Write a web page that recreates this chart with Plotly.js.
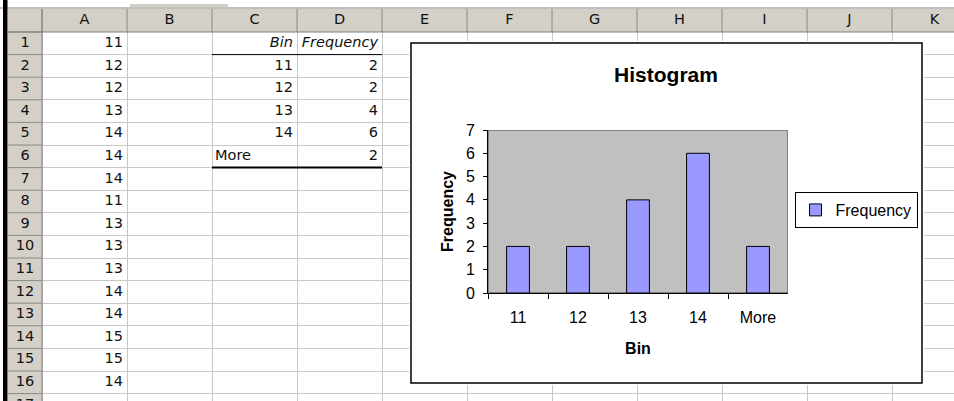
<!DOCTYPE html>
<html><head><meta charset="utf-8">
<script src="https://cdn.plot.ly/plotly-3.0.1.min.js"></script>
<style>html,body{margin:0;padding:0;background:#fff;overflow:hidden}#chart{width:954px;height:401px}</style>
</head><body><div id="chart"></div>
<script>
// ---- data ----
const columnLetters = ['A','B','C','D','E','F','G','H','I','J','K'];
const rowNumbers = [1,2,3,4,5,6,7,8,9,10,11,12,13,14,15,16,17];
const columnA = [11,12,12,13,14,14,14,11,13,13,13,14,14,15,15,14];
const binHeader = 'Bin';
const freqHeader = 'Frequency';
const bins = ['11','12','13','14','More'];
const frequency = [2,2,4,6,2];
const chartTitle = 'Histogram';
const xTitle = 'Bin';
const yTitle = 'Frequency';
const seriesName = 'Frequency';

// ---- sheet geometry (pixel units) ----
const W = 954, H = 401;
const colEdges = [8, 42];
for (let i = 1; i <= 11; i++) colEdges.push(42 + 85 * i);
const rowEdges = [9, 32];
for (let i = 1; i <= 17; i++) rowEdges.push(32 + 22.6 * i);
const colCenter = i => (colEdges[i + 1] + colEdges[i + 2]) / 2;   // i = 0 -> A
const colRight = i => colEdges[i + 2] - 4;
const colLeft = i => colEdges[i + 1] + 3;
const rowCenter = r => (rowEdges[r] + rowEdges[r + 1]) / 2;      // r = 1 -> row 1

const sheetFont = {family: 'DejaVu Sans', size: 14.5, color: '#111'};
const chartFont = 'Liberation Sans, Arial, sans-serif';

function txt(x, y, text, pos, extra) {
  return Object.assign({type: 'scatter', mode: 'text', x: x, y: y, text: text,
    textposition: pos, textfont: sheetFont, xaxis: 'x', yaxis: 'y',
    hoverinfo: 'skip', showlegend: false, cliponaxis: true}, extra || {});
}

const traces = [];
traces.push(txt(columnLetters.map((c, i) => colCenter(i)), columnLetters.map(() => (rowEdges[0] + rowEdges[1]) / 2), columnLetters, 'middle center'));
traces.push(txt(rowNumbers.map(() => (colEdges[0] + colEdges[1]) / 2), rowNumbers.map(r => rowCenter(r)), rowNumbers.map(String), 'middle center'));
traces.push(txt(columnA.map(() => colRight(0)), columnA.map((v, i) => rowCenter(i + 1)), columnA.map(String), 'middle left'));
traces.push(txt([colRight(2), colRight(3)], [rowCenter(1), rowCenter(1)], [binHeader, freqHeader], 'middle left',
  {textfont: Object.assign({}, sheetFont, {style: 'italic'})}));
const numericBins = bins.filter(b => !isNaN(+b));
traces.push(txt(numericBins.map(() => colRight(2)), numericBins.map((b, i) => rowCenter(i + 2)), numericBins, 'middle left'));
const otherBins = bins.filter(b => isNaN(+b));
traces.push(txt(otherBins.map(() => colLeft(2)), otherBins.map((b, i) => rowCenter(numericBins.length + 2 + i)), otherBins, 'middle right'));
traces.push(txt(frequency.map(() => colRight(3)), frequency.map((v, i) => rowCenter(i + 2)), frequency.map(String), 'middle left'));

// histogram bars
traces.push({type: 'bar', x: bins, y: frequency, xaxis: 'x3', yaxis: 'y3', name: seriesName,
  width: 0.38, marker: {color: '#9999ff', line: {color: '#000', width: 1}}, hoverinfo: 'skip'});

// ---- shapes ----
const shapes = [];
shapes.push({type: 'rect', xref: 'x', yref: 'y', x0: colEdges[0], x1: 990, y0: rowEdges[0], y1: rowEdges[1], fillcolor: '#d4d0c8', line: {width: 0}, layer: 'below'});
shapes.push({type: 'rect', xref: 'x', yref: 'y', x0: colEdges[0], x1: colEdges[1], y0: rowEdges[1], y1: 420, fillcolor: '#d4d0c8', line: {width: 0}, layer: 'below'});
colEdges.slice(1).forEach(x => shapes.push({type: 'line', xref: 'x', yref: 'y', x0: x, x1: x, y0: rowEdges[0], y1: rowEdges[1], line: {color: '#8c8c8c', width: 1}, layer: 'above'}));
rowEdges.slice(1).forEach(y => shapes.push({type: 'line', xref: 'x', yref: 'y', x0: colEdges[0], x1: colEdges[1], y0: y, y1: y, line: {color: '#8c8c8c', width: 1}, layer: 'above'}));
shapes.push({type: 'line', xref: 'x', yref: 'y', x0: colEdges[0], x1: 990, y0: rowEdges[1], y1: rowEdges[1], line: {color: '#808080', width: 1}, layer: 'above'});
shapes.push({type: 'line', xref: 'x', yref: 'y', x0: colEdges[1], x1: colEdges[1], y0: rowEdges[0], y1: 420, line: {color: '#808080', width: 1}, layer: 'above'});
shapes.push({type: 'line', xref: 'x', yref: 'y', x0: colEdges[3], x1: colEdges[5], y0: rowEdges[2], y1: rowEdges[2], line: {color: '#000', width: 1}, layer: 'above'});
shapes.push({type: 'line', xref: 'x', yref: 'y', x0: colEdges[3], x1: colEdges[5], y0: rowEdges[7], y1: rowEdges[7], line: {color: '#000', width: 2}, layer: 'above'});
const py = v => 1 - v / H, px = v => v / W;
shapes.push({type: 'line', xref: 'paper', yref: 'paper', x0: 0, x1: 1, y0: py(8), y1: py(8), line: {color: '#808080', width: 1}, layer: 'above'});
shapes.push({type: 'rect', xref: 'paper', yref: 'paper', x0: px(130), x1: px(228), y0: py(7), y1: py(4), fillcolor: '#d4d0c8', line: {width: 0}, layer: 'above'});
shapes.push({type: 'rect', xref: 'paper', yref: 'paper', x0: px(3), x1: px(7.5), y0: 0, y1: 1, fillcolor: '#000', line: {width: 0}, layer: 'above'});
shapes.push({type: 'rect', xref: 'x2', yref: 'y2', x0: 411, x1: 922, y0: 43, y1: 383, fillcolor: '#fff', line: {color: '#000', width: 1.5}, layer: 'below'});
shapes.push({type: 'rect', xref: 'x3', yref: 'y3', x0: -0.5, x1: bins.length - 0.5, y0: 0, y1: 7, fillcolor: '#c0c0c0', line: {color: '#808080', width: 2}, layer: 'below'});

const boundaries = bins.map((b, i) => i - 0.5).concat([bins.length - 0.5]);

const layout = {
  width: W, height: H,
  margin: {l: 0, r: 0, t: 0, b: 0},
  paper_bgcolor: '#fff', plot_bgcolor: '#fff',
  showlegend: true,
  title: {text: '<b>' + chartTitle + '</b>', font: {family: chartFont, size: 21, color: '#000'},
    x: 666 / W, xanchor: 'center', y: py(75), yanchor: 'middle'},
  xaxis: {domain: [px(8), 1], range: [8, W], tickvals: colEdges.slice(1), showgrid: true, gridcolor: '#c8c8c8', gridwidth: 1,
    showticklabels: false, ticks: '', zeroline: false, showline: false, anchor: 'y', fixedrange: true},
  yaxis: {domain: [0, py(9)], range: [H, 9], tickvals: rowEdges.slice(2), showgrid: true, gridcolor: '#c8c8c8', gridwidth: 1,
    showticklabels: false, ticks: '', zeroline: false, showline: false, anchor: 'x', fixedrange: true},
  xaxis2: {domain: [px(409), px(924)], range: [409, 924], anchor: 'y2', showgrid: false, zeroline: false, showticklabels: false, ticks: '', showline: false},
  yaxis2: {domain: [py(385), py(41)], range: [385, 41], anchor: 'x2', showgrid: false, zeroline: false, showticklabels: false, ticks: '', showline: false},
  xaxis3: {domain: [px(488), px(788)], anchor: 'y3', type: 'category', categoryorder: 'array', categoryarray: bins,
    range: [-0.5, bins.length - 0.5], tickson: 'boundaries', ticks: 'outside', ticklen: 5, tickcolor: '#000', tickwidth: 1,
    showline: true, linecolor: '#000', linewidth: 1, showgrid: false, zeroline: false, ticklabelstandoff: 10,
    tickfont: {family: chartFont, size: 16, color: '#000'},
    title: {text: '<b>' + xTitle + '</b>', font: {family: chartFont, size: 16, color: '#000'}, standoff: 17}},
  yaxis3: {domain: [py(293), py(130)], anchor: 'x3', range: [0, 7], tickmode: 'linear', tick0: 0, dtick: 1,
    ticks: 'outside', ticklen: 4, tickcolor: '#000', tickwidth: 1, showline: true, linecolor: '#000', linewidth: 1,
    showgrid: false, zeroline: false, ticklabelstandoff: 5,
    tickfont: {family: chartFont, size: 16, color: '#000'},
    title: {text: '<b>' + yTitle + '</b>', font: {family: chartFont, size: 16, color: '#000'}, standoff: 8}},
  xaxis4: {overlaying: 'x3', anchor: 'y3', range: [-0.5, bins.length - 0.5], tickvals: boundaries, ticks: 'inside', ticklen: 5,
    tickcolor: '#000', tickwidth: 1, showticklabels: false, showgrid: false, zeroline: false, showline: false},
  yaxis4: {overlaying: 'y3', anchor: 'x3', side: 'left', range: [0, 7], tickmode: 'linear', tick0: 0, dtick: 1, ticks: 'inside', ticklen: 4,
    tickcolor: '#000', tickwidth: 1, showticklabels: false, showgrid: false, zeroline: false, showline: false},
  legend: {x: 856 / W, xanchor: 'center', y: py(210), yanchor: 'middle', bgcolor: '#fff', bordercolor: '#000', borderwidth: 1,
    font: {family: chartFont, size: 16, color: '#000'}},
  shapes: shapes
};

Plotly.newPlot('chart', traces, layout, {staticPlot: true, displayModeBar: false});
</script>
</body></html>
